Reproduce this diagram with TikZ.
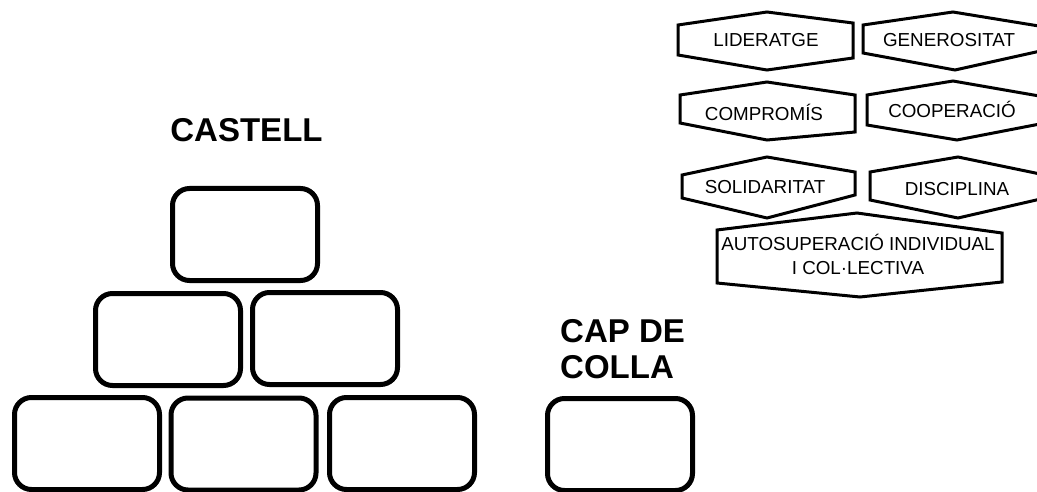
\documentclass[tikz,border=0pt]{standalone}
\usepackage{fontspec}
\setmainfont{Liberation Sans}
\begin{document}
\begin{tikzpicture}[x=1pt,y=-1pt,
  brick/.style={draw=black,line width=5pt,rounded corners=17pt,minimum width=145pt,minimum height=92pt,inner sep=0pt},
  hexline/.style={draw=black,line width=3pt,line join=miter},
  hextext/.style={font=\fontsize{18.8}{24}\selectfont,inner sep=0pt,align=center},
  title/.style={font=\bfseries\fontsize{33}{36}\selectfont,inner sep=0pt}]
\useasboundingbox (0,0) rectangle (1037,492);
% castell bricks
\node[brick] (b1) at (245,234.5) {};
\node[brick] (b2) at (168,339.5) {};
\node[brick] (b3) at (325,338.5) {};
\node[brick] (b4) at (87,443.5) {};
\node[brick] (b5) at (243.5,444) {};
\node[brick] (b6) at (402,443.5) {};
\node[brick] (cap) at (620,444.5) {};
% titles
\node[title,anchor=base] (castell) at (246.5,142) {CASTELL};
\node[title,anchor=base west] (cap1) at (560,342) {CAP DE};
\node[title,anchor=base west] (cap2) at (560,378) {COLLA};
% hexagons
\begin{scope}
\clip (0,0) rectangle (1037,492);
\draw[hexline] (678,25) -- (767,12) -- (853,23) -- (853,58) -- (767,70) -- (678,55) -- cycle;
\draw[hexline] (863,25) -- (953,12) -- (1045,27) -- (1045,50) -- (955,70) -- (863,53) -- cycle;
\draw[hexline] (680,95) -- (767,82) -- (855,95) -- (855,132) -- (767,140) -- (680,123) -- cycle;
\draw[hexline] (867,95) -- (953,81) -- (1045,97) -- (1045,123) -- (957,140) -- (867,125) -- cycle;
\draw[hexline] (682,175) -- (767,157) -- (855,172) -- (855,195) -- (767,218) -- (682,198) -- cycle;
\draw[hexline] (870,172) -- (958,157) -- (1045,175) -- (1045,198) -- (958,218) -- (870,200) -- cycle;
\draw[hexline] (717,230) -- (857,213) -- (1002,233) -- (1002,282) -- (860,297) -- (717,283) -- cycle;
\end{scope}
\node[hextext] (lid) at (766,40) {LIDERATGE};
\node[hextext] (gen) at (949,40) {GENEROSITAT};
\node[hextext] (com) at (764,112) {COMPROMÍS};
\node[hextext] (coo) at (952,109) {COOPERACIÓ};
\node[hextext] (sol) at (765,187) {SOLIDARITAT};
\node[hextext] (dis) at (957,189) {DISCIPLINA};
\node[hextext] (aut) at (858,254) {AUTOSUPERACIÓ INDIVIDUAL\\I COL·LECTIVA};
\end{tikzpicture}
\end{document}
